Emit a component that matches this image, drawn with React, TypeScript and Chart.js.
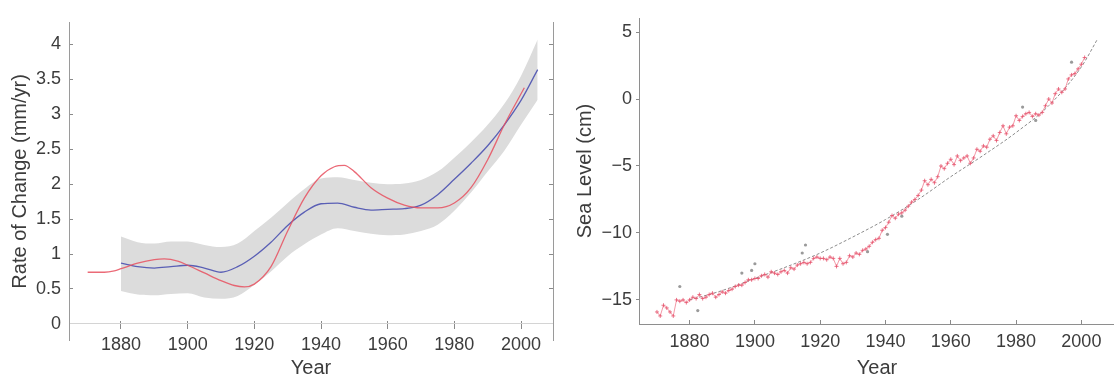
import React, { useEffect, useRef } from 'react';
import { Chart, registerables } from 'chart.js';

Chart.register(...registerables);

// ---------- Left panel: rate of change (mm/yr) ----------
const bandYears = [1880, 1885, 1890, 1895, 1900, 1905, 1910, 1915, 1920, 1925, 1930, 1935, 1940, 1945, 1950, 1955, 1960, 1965, 1970, 1975, 1980, 1985, 1990, 1995, 2000, 2005];
const bandUpper = [1.25, 1.17, 1.15, 1.18, 1.18, 1.13, 1.10, 1.15, 1.33, 1.52, 1.73, 1.93, 2.08, 2.10, 2.06, 2.02, 2.00, 2.01, 2.06, 2.18, 2.38, 2.60, 2.85, 3.15, 3.55, 4.07];
const bandLower = [0.47, 0.42, 0.41, 0.43, 0.44, 0.38, 0.36, 0.40, 0.56, 0.75, 0.97, 1.14, 1.28, 1.37, 1.33, 1.29, 1.27, 1.28, 1.33, 1.42, 1.62, 1.88, 2.18, 2.48, 2.85, 3.21];
const meanRate = [0.87, 0.82, 0.80, 0.82, 0.84, 0.80, 0.74, 0.82, 0.97, 1.17, 1.41, 1.60, 1.72, 1.73, 1.67, 1.63, 1.64, 1.65, 1.70, 1.85, 2.07, 2.30, 2.55, 2.85, 3.20, 3.64];
const obsRateYears = [1870, 1875, 1878, 1880, 1885, 1890, 1893, 1897, 1900, 1905, 1910, 1914, 1917, 1920, 1925, 1930, 1935, 1940, 1944, 1947, 1950, 1955, 1960, 1965, 1970, 1975, 1980, 1985, 1990, 1995, 2001];
const obsRate = [0.74, 0.74, 0.76, 0.79, 0.87, 0.92, 0.93, 0.90, 0.84, 0.73, 0.62, 0.55, 0.53, 0.57, 0.82, 1.33, 1.80, 2.12, 2.25, 2.27, 2.18, 1.95, 1.80, 1.70, 1.66, 1.66, 1.73, 1.95, 2.35, 2.85, 3.38];
const rateTicks = [0, 0.5, 1, 1.5, 2, 2.5, 3, 3.5, 4];
const yearTicks = [1880, 1900, 1920, 1940, 1960, 1980, 2000];

// ---------- Right panel: sea level (cm) ----------
const levelYears = [
  1870, 1871, 1872, 1873, 1874, 1875, 1876, 1877, 1878, 1879,
  1880, 1881, 1882, 1883, 1884, 1885, 1886, 1887, 1888, 1889,
  1890, 1891, 1892, 1893, 1894, 1895, 1896, 1897, 1898, 1899,
  1900, 1901, 1902, 1903, 1904, 1905, 1906, 1907, 1908, 1909,
  1910, 1911, 1912, 1913, 1914, 1915, 1916, 1917, 1918, 1919,
  1920, 1921, 1922, 1923, 1924, 1925, 1926, 1927, 1928, 1929,
  1930, 1931, 1932, 1933, 1934, 1935, 1936, 1937, 1938, 1939,
  1940, 1941, 1942, 1943, 1944, 1945, 1946, 1947, 1948, 1949,
  1950, 1951, 1952, 1953, 1954, 1955, 1956, 1957, 1958, 1959,
  1960, 1961, 1962, 1963, 1964, 1965, 1966, 1967, 1968, 1969,
  1970, 1971, 1972, 1973, 1974, 1975, 1976, 1977, 1978, 1979,
  1980, 1981, 1982, 1983, 1984, 1985, 1986, 1987, 1988, 1989,
  1990, 1991, 1992, 1993, 1994, 1995, 1996, 1997, 1998, 1999,
  2000, 2001,
];
const seaLevel = [
  -15.9, -16.2, -15.4, -15.6, -15.9, -16.2, -15.0, -15.1, -15.0, -15.2,
  -15.0, -14.8, -14.9, -14.6, -14.9, -14.8, -14.6, -14.5, -14.8, -14.6,
  -14.4, -14.5, -14.3, -14.2, -14.0, -13.9, -13.9, -13.7, -13.5, -13.5,
  -13.4, -13.4, -13.2, -13.1, -13.3, -12.9, -13.0, -13.1, -12.9, -12.8,
  -13.0, -12.6, -12.7, -12.4, -12.3, -12.2, -12.3, -12.2, -11.9, -11.8,
  -11.9, -11.9, -12.0, -11.8, -11.9, -12.5, -11.9, -12.3, -12.2, -11.7,
  -11.8, -11.5, -11.6, -11.3, -11.2, -11.0, -10.7, -10.5, -10.4, -9.8,
  -9.6, -9.2, -8.7, -8.9, -8.6, -8.5, -8.3, -8.0, -7.7, -7.5,
  -7.2, -6.8, -6.1, -6.4, -6.0, -6.25, -5.8, -5.0, -5.2, -4.8,
  -4.5, -4.9, -4.25, -4.6, -4.4, -4.25, -4.8, -4.4, -3.75, -3.9,
  -3.5, -3.6, -3.0, -2.75, -3.1, -2.5, -2.0, -2.6, -2.1, -2.0,
  -1.25, -1.6, -1.3, -1.1, -1.0, -1.3, -1.1, -1.2, -1.0, -0.5,
  0.0, -0.3, 0.4, 0.75, 0.5, 0.75, 1.5, 1.8, 1.9, 2.25,
  2.6, 3.1,
];
const outlierYears = [1877, 1882.5, 1896, 1899, 1900, 1914.5, 1915.5, 1934.5, 1940.6, 1945, 1982, 1986, 1997];
const outlierLevel = [-14.0, -15.8, -13.0, -12.8, -12.3, -11.5, -10.9, -11.4, -10.1, -8.75, -0.6, -1.6, 2.75];
const fitYears = [1880, 1890, 1900, 1910, 1920, 1930, 1940, 1950, 1960, 1970, 1980, 1990, 2000, 2005];
const fitLevel = [-15.0, -14.3, -13.4, -12.5, -11.5, -10.3, -9.0, -7.5, -5.8, -4.2, -2.5, -0.5, 2.4, 4.5];
const levelTicks = [-15, -10, -5, 0, 5];

const FAMILY = '"Liberation Sans", Arial, Helvetica, sans-serif';
const TEXT = '#3c3c3c';
const tickFont = { family: FAMILY, size: 18 };
const titleFont = { family: FAMILY, size: 20 };

const toXY = (xs: number[], ys: number[]) => xs.map((x, i) => ({ x, y: ys[i] }));
const setTicks = (vals: number[]) => (s: any) => {
  s.ticks = vals.map((v) => ({ value: v }));
};

function LeftChart() {
  const ref = useRef<HTMLCanvasElement>(null);
  useEffect(() => {
    const chart = new Chart(ref.current as HTMLCanvasElement, {
      type: 'line',
      data: {
        datasets: [
          {
            label: 'observed',
            data: toXY(obsRateYears, obsRate),
            borderColor: 'rgba(232,80,95,0.85)',
            borderWidth: 1.3,
            pointRadius: 0,
            fill: false,
            cubicInterpolationMode: 'monotone',
          },
          {
            label: 'mean',
            data: toXY(bandYears, meanRate),
            borderColor: '#5a5fb5',
            borderWidth: 1.3,
            pointRadius: 0,
            fill: false,
            cubicInterpolationMode: 'monotone',
          },
          {
            label: 'lower',
            data: toXY(bandYears, bandLower),
            borderColor: 'rgba(0,0,0,0)',
            borderWidth: 0,
            pointRadius: 0,
            fill: false,
            cubicInterpolationMode: 'monotone',
          },
          {
            label: 'upper',
            data: toXY(bandYears, bandUpper),
            borderColor: 'rgba(0,0,0,0)',
            borderWidth: 0,
            pointRadius: 0,
            fill: '-1',
            backgroundColor: '#dcdcdc',
            cubicInterpolationMode: 'monotone',
          },
        ],
      },
      options: {
        responsive: false,
        animation: false,
        layout: { padding: { top: 5, left: 0, right: 0, bottom: 38 } },
        plugins: {
          legend: { display: false },
          tooltip: { enabled: false },
          filler: { drawTime: 'beforeDatasetsDraw' },
        },
        scales: {
          x: {
            type: 'linear',
            axis: 'x',
            position: { y: 0 },
            min: 1864.4,
            max: 2009.6,
            afterBuildTicks: setTicks(yearTicks),
            ticks: { font: tickFont, color: TEXT, padding: 5, maxRotation: 0, callback: (v: any) => String(v) },
            grid: { drawOnChartArea: false, tickLength: 5, color: '#8a8a8a' },
            border: { color: '#d4d4d4' },
            title: { display: true, text: 'Year', font: titleFont, color: TEXT, padding: { top: 0, bottom: -19 } },
            afterFit: (s: any) => { s.height = 38; },
          },
          x2: {
            type: 'linear',
            axis: 'x',
            position: { y: 0 },
            min: 1864.4,
            max: 2009.6,
            afterBuildTicks: setTicks(yearTicks),
            ticks: { display: false },
            grid: { drawOnChartArea: false, tickLength: -3, color: '#8a8a8a' },
            border: { display: false },
            afterFit: (s: any) => { s.height = 0; },
          },
          y: {
            type: 'linear',
            position: 'left',
            min: -0.23,
            max: 4.31,
            afterBuildTicks: setTicks(rateTicks),
            ticks: { font: tickFont, color: TEXT, padding: 12, callback: (v: any) => String(v) },
            grid: { drawOnChartArea: false, tickLength: -4, color: '#8a8a8a' },
            border: { color: '#9a9a9a' },
            title: { display: true, text: 'Rate of Change (mm/yr)', font: titleFont, color: TEXT, padding: { top: 8, bottom: 0 } },
            afterFit: (s: any) => { s.width = 69; },
          },
          y2: {
            type: 'linear',
            axis: 'y',
            position: 'right',
            min: -0.23,
            max: 4.31,
            afterBuildTicks: setTicks(rateTicks),
            ticks: { display: false },
            grid: { drawOnChartArea: false, tickLength: -4, color: '#8a8a8a' },
            border: { color: '#9a9a9a' },
            afterFit: (s: any) => { s.width = 7; },
          },
        },
      } as any,
    });
    return () => chart.destroy();
  }, []);
  return <canvas ref={ref} width={560} height={378} style={{ position: 'absolute', left: 0, top: 0 }} />;
}

function RightChart() {
  const ref = useRef<HTMLCanvasElement>(null);
  useEffect(() => {
    const chart = new Chart(ref.current as HTMLCanvasElement, {
      type: 'line',
      data: {
        datasets: [
          {
            label: 'sea level',
            data: toXY(levelYears, seaLevel),
            borderColor: 'rgba(238,110,130,0.7)',
            borderWidth: 1,
            pointRadius: 2,
            pointStyle: 'cross',
            pointBorderColor: 'rgba(230,85,110,0.8)',
            pointBorderWidth: 1,
            fill: false,
            tension: 0,
          },
          {
            label: 'others',
            data: toXY(outlierYears, outlierLevel),
            showLine: false,
            pointRadius: 1.6,
            pointStyle: 'circle',
            pointBackgroundColor: '#9a9a9a',
            pointBorderColor: '#9a9a9a',
            borderWidth: 0,
          },
          {
            label: 'fit',
            data: toXY(fitYears, fitLevel),
            borderColor: '#8c8c8c',
            borderWidth: 1,
            borderDash: [3, 2],
            pointRadius: 0,
            fill: false,
            cubicInterpolationMode: 'monotone',
          },
        ],
      },
      options: {
        responsive: false,
        animation: false,
        layout: { padding: { top: 18, left: 0, right: 0, bottom: 0 } },
        plugins: { legend: { display: false }, tooltip: { enabled: false } },
        scales: {
          x: {
            type: 'linear',
            position: 'bottom',
            min: 1864.5,
            max: 2010.3,
            afterBuildTicks: setTicks(yearTicks),
            ticks: { font: tickFont, color: TEXT, padding: 11, maxRotation: 0, callback: (v: any) => String(v) },
            grid: { drawOnChartArea: false, tickLength: -4, color: '#8a8a8a' },
            border: { color: '#8e8e8e' },
            title: { display: true, text: 'Year', font: titleFont, color: TEXT, padding: { top: 0, bottom: -2 } },
            afterFit: (s: any) => { s.height = 54; },
          },
          y: {
            type: 'linear',
            position: 'left',
            min: -16.8,
            max: 6.05,
            afterBuildTicks: setTicks(levelTicks),
            ticks: {
              font: tickFont,
              color: TEXT,
              padding: 4,
              callback: (v: any) => (v < 0 ? '\u2212' + Math.abs(v) : String(v)),
            },
            grid: { drawOnChartArea: false, tickLength: 3, color: '#8a8a8a' },
            border: { color: '#8e8e8e' },
            title: { display: true, text: 'Sea Level (cm)', font: titleFont, color: TEXT, padding: { top: 13, bottom: 0 } },
            afterFit: (s: any) => { s.width = 79; },
          },
        },
      } as any,
    });
    return () => chart.destroy();
  }, []);
  return <canvas ref={ref} width={560} height={378} style={{ position: 'absolute', left: 560, top: 0 }} />;
}

export default function App() {
  return (
    <div
      style={{
        position: 'fixed',
        left: 0,
        top: 0,
        width: 1114,
        height: 378,
        overflow: 'hidden',
        background: '#ffffff',
      }}
    >
      <LeftChart />
      <RightChart />
    </div>
  );
}
